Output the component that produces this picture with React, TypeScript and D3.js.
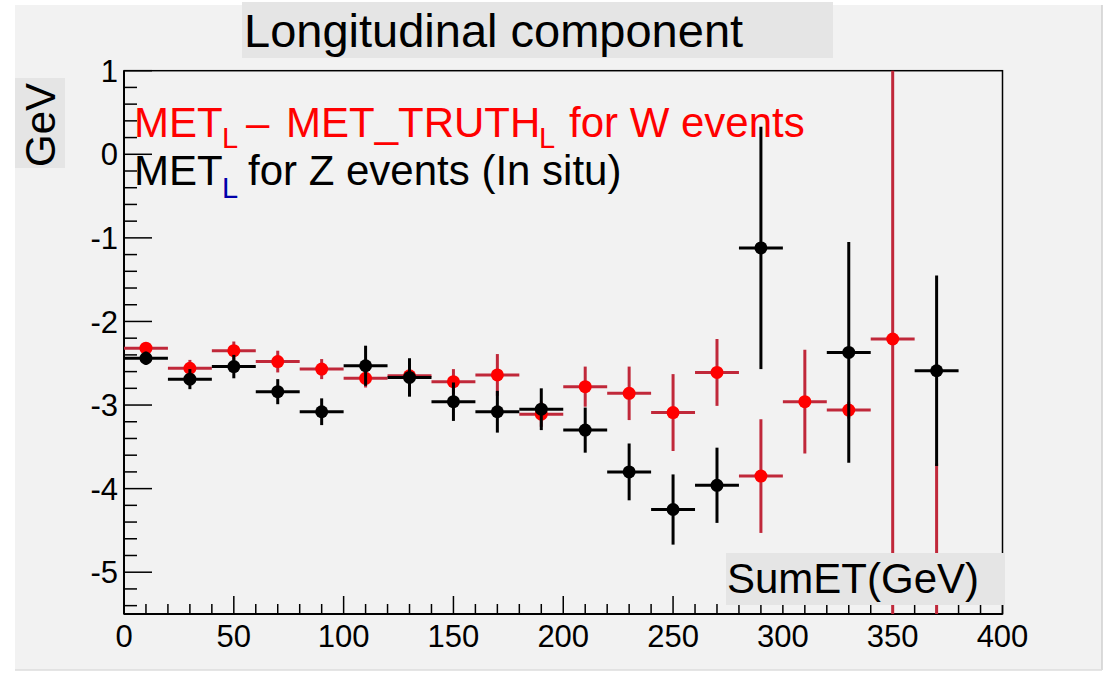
import React from "react";
import * as d3 from "d3";

// W events: MET_L - MET_TRUTH_L (red)
const wBins = [10, 30, 50, 70, 90, 110, 130, 150, 170, 190, 210, 230, 250, 270, 290, 310, 330, 350, 370];
const wValues = [-2.32, -2.56, -2.35, -2.48, -2.57, -2.68, -2.65, -2.72, -2.64, -3.11, -2.78, -2.86, -3.09, -2.61, -3.85, -2.96, -3.06, -2.21, -7.0];
const wErrors = [0.06, 0.1, 0.11, 0.13, 0.12, 0.11, 0.1, 0.15, 0.25, 0.15, 0.24, 0.32, 0.46, 0.4, 0.68, 0.62, 0.1, 8.0, 3.3];

// Z events: MET_L in situ (black)
const zBins = [10, 30, 50, 70, 90, 110, 130, 150, 170, 190, 210, 230, 250, 270, 290, 330, 370];
const zValues = [-2.44, -2.69, -2.54, -2.84, -3.08, -2.53, -2.67, -2.96, -3.08, -3.05, -3.30, -3.80, -4.25, -3.96, -1.12, -2.37, -2.59];
const zErrors = [0.08, 0.12, 0.14, 0.15, 0.16, 0.24, 0.23, 0.23, 0.25, 0.25, 0.27, 0.34, 0.42, 0.45, 1.45, 1.32, 1.14];

const binHalfWidth = 10;
const xDomain = [0, 400];
const yDomain = [-5.5, 1];

const FONT = "'Liberation Sans', Arial, Helvetica, sans-serif";

export default function App() {
  const W = 1111, H = 675;
  const left = 124, right = 1002.5, top = 70.7, bottom = 614;
  const x = d3.scaleLinear().domain(xDomain).range([left, right]);
  const y = d3.scaleLinear().domain(yDomain).range([bottom, top]);

  const xTicks = x.ticks(40);
  const yTicks = y.ticks(30);
  const isMajorX = (v: number) => Math.abs(v % 50) < 1e-6;
  const isMajorY = (v: number) => Math.abs(v - Math.round(v)) < 1e-6;
  const fmtY = (v: number) => String(Math.round(v)).replace("\u2212", "-");

  const series = [
    { bins: wBins, values: wValues, errors: wErrors, marker: "#ff0000", bar: "#c0283a" },
    { bins: zBins, values: zValues, errors: zErrors, marker: "#000000", bar: "#000000" },
  ];

  return (
    <div style={{ position: "absolute", left: 0, top: 0 }}>
      <svg width={W} height={H} style={{ display: "block", fontFamily: FONT }}>
        <defs>
          <clipPath id="plotClip">
            <rect x={left} y={top} width={right - left} height={bottom - top} />
          </clipPath>
        </defs>
        <rect x={0} y={0} width={W} height={H} fill="#ffffff" />
        <rect x={15} y={5} width={1087} height={665} fill="#f2f2f2" />
        <line x1={1102} y1={5} x2={1102} y2={670} stroke="#cfcfcf" strokeWidth={1.5} />
        <line x1={15} y1={670} x2={1102} y2={670} stroke="#dcdcdc" strokeWidth={1.5} />

        {/* title */}
        <rect x={242} y={2} width={591} height={56} fill="#e5e5e5" />
        <text x={244} y={47} fontSize={47} fill="#000">Longitudinal component</text>

        {/* y label */}
        <rect x={15} y={78} width={50} height={90} fill="#e5e5e5" />
        <text transform="translate(55,125) rotate(-90)" textAnchor="middle" fontSize={42} fill="#000">GeV</text>

        {/* frame */}
        <rect x={left} y={top} width={right - left} height={bottom - top} fill="none" stroke="#000" strokeWidth={1.5} />
        <line x1={left} y1={top} x2={left} y2={bottom} stroke="#000" strokeWidth={2} />
        <line x1={left} y1={bottom} x2={right} y2={bottom} stroke="#000" strokeWidth={2} />

        {/* y ticks */}
        {yTicks.map((v) => (
          <line key={"yt" + v} x1={left} x2={left + (isMajorY(v) ? 28 : 13)} y1={y(v)} y2={y(v)} stroke="#000" strokeWidth={1.5} />
        ))}
        {yTicks.filter(isMajorY).map((v) => (
          <text key={"yl" + v} x={118} y={y(v)} dy="0.36em" textAnchor="end" fontSize={31} fill="#000">{fmtY(v)}</text>
        ))}
        {/* x ticks */}
        {xTicks.map((v) => (
          <line key={"xt" + v} x1={x(v)} x2={x(v)} y1={bottom} y2={bottom - (isMajorX(v) ? 18 : 10)} stroke="#000" strokeWidth={1.5} />
        ))}
        {xTicks.filter(isMajorX).map((v) => (
          <text key={"xl" + v} x={x(v)} y={647} textAnchor="middle" fontSize={31} fill="#000">{v}</text>
        ))}

        {/* data */}
        <g clipPath="url(#plotClip)">
          {series.map((s, si) => (
            <g key={"s" + si}>
              {s.bins.map((b, i) => (
                <g key={"p" + i}>
                  <line x1={x(b - binHalfWidth)} x2={x(b + binHalfWidth)} y1={y(s.values[i])} y2={y(s.values[i])} stroke={s.bar} strokeWidth={3} />
                  <line x1={x(b)} x2={x(b)} y1={y(s.values[i] - s.errors[i])} y2={y(s.values[i] + s.errors[i])} stroke={s.bar} strokeWidth={3} />
                  <circle cx={x(b)} cy={y(s.values[i])} r={6.5} fill={s.marker} />
                </g>
              ))}
            </g>
          ))}
        </g>

        {/* legend */}
        <text y={137} fontSize={42} fill="#ff0000">
          <tspan x={134}>MET</tspan>
          <tspan x={222} y={148} fontSize={29}>L</tspan>
          <tspan x={246} y={137}>–</tspan>
          <tspan x={286} y={137}>MET_TRUTH</tspan>
          <tspan x={539} y={148} fontSize={29}>L</tspan>
          <tspan x={569} y={137}>for W events</tspan>
        </text>
        <text y={185} fontSize={42} fill="#000">
          <tspan x={134}>MET</tspan>
          <tspan x={222} y={198} fontSize={29} fill="#0000aa">L</tspan>
          <tspan x={248} y={185}>for Z events (In situ)</tspan>
        </text>

        {/* x label */}
        <rect x={726} y={553} width={279} height={52} fill="#e5e5e5" />
        <text x={727} y={593} fontSize={42} fill="#000">SumET(GeV)</text>
      </svg>
    </div>
  );
}
